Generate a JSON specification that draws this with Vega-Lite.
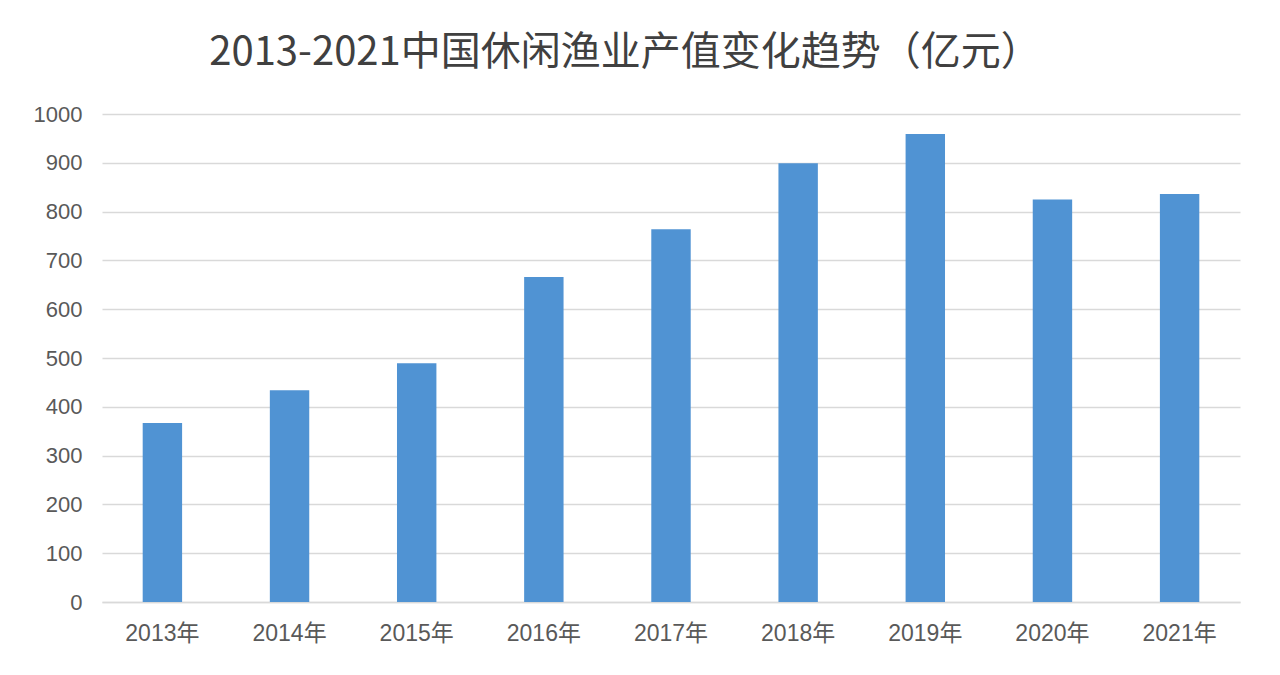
{
  "$schema": "https://vega.github.io/schema/vega-lite/v6.json",
  "autosize": {"type": "none"},
  "width": 1138,
  "height": 488,
  "padding": {"left": 102, "top": 114, "right": 40, "bottom": 73},
  "background": "white",
  "title": {
    "text": "2013-2021中国休闲渔业产值变化趋势（亿元）",
    "font": "Noto Sans CJK SC",
    "fontSize": 40,
    "fontWeight": "normal",
    "color": "#404040",
    "anchor": "middle",
    "dx": -46,
    "offset": 30
  },
  "data": {
    "values": [
      {"year": "2013年", "value": 367},
      {"year": "2014年", "value": 434},
      {"year": "2015年", "value": 489},
      {"year": "2016年", "value": 666},
      {"year": "2017年", "value": 764},
      {"year": "2018年", "value": 899},
      {"year": "2019年", "value": 959},
      {"year": "2020年", "value": 825},
      {"year": "2021年", "value": 836}
    ]
  },
  "mark": {"type": "bar", "color": "#5093D3"},
  "encoding": {
    "x": {
      "field": "year",
      "type": "nominal",
      "sort": null,
      "scale": {"paddingInner": 0.69, "paddingOuter": 0.32},
      "axis": {
        "title": null,
        "labelAngle": 0,
        "ticks": false,
        "labelPadding": 20,
        "labelFont": "Liberation Sans, Noto Sans CJK SC",
        "labelFontSize": 23,
        "labelColor": "#595959",
        "domainColor": "#d9d9d9",
        "domainWidth": 1.5
      }
    },
    "y": {
      "field": "value",
      "type": "quantitative",
      "scale": {"domain": [0, 1000], "nice": false},
      "axis": {
        "title": null,
        "format": "d",
        "values": [0, 100, 200, 300, 400, 500, 600, 700, 800, 900, 1000],
        "ticks": false,
        "domain": false,
        "labelPadding": 20,
        "labelFont": "Liberation Sans",
        "labelFontSize": 22,
        "labelColor": "#595959",
        "gridColor": "#d9d9d9",
        "gridWidth": 1.5
      }
    }
  },
  "config": {"view": {"stroke": null}}
}
